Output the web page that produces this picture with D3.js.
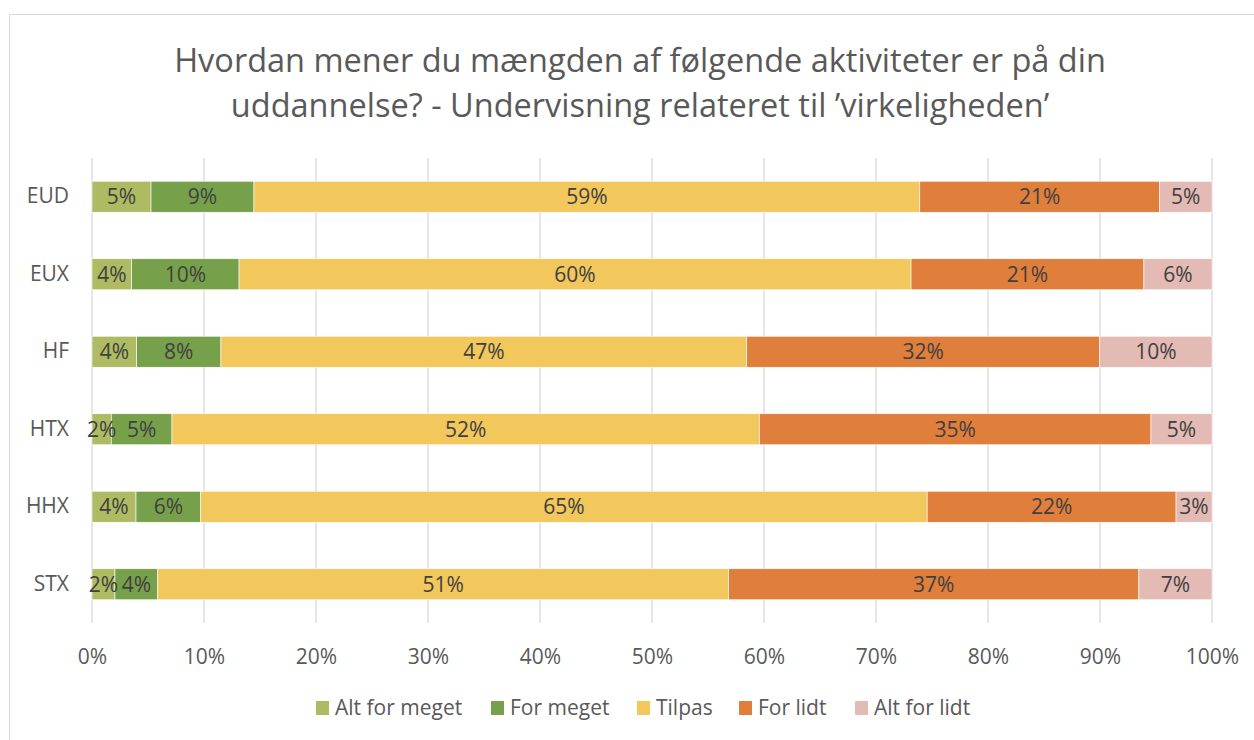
<!DOCTYPE html>
<html>
<head>
<meta charset="utf-8">
<script src="https://cdn.jsdelivr.net/npm/d3@7"></script>
<style>
  body { margin: 0; background: #fff; }
  svg text { font-family: "Open Sans", sans-serif; }
</style>
</head>
<body>
<div id="chart"></div>
<script>
// categories (top to bottom) and the five answer series, shares of 1
const schools = ["EUD", "EUX", "HF", "HTX", "HHX", "STX"];
const seriesNames = ["Alt for meget", "For meget", "Tilpas", "For lidt", "Alt for lidt"];
const altForMeget = [0.0527, 0.0354, 0.0399, 0.0172, 0.0393, 0.0205];
const forMeget    = [0.0919, 0.0959, 0.0752, 0.0542, 0.0578, 0.0382];
const tilpas      = [0.5945, 0.6000, 0.4695, 0.5245, 0.6486, 0.5098];
const forLidt     = [0.2140, 0.2079, 0.3152, 0.3496, 0.2222, 0.3662];
const altForLidt  = [0.0469, 0.0608, 0.1002, 0.0545, 0.0321, 0.0653];
const xTicks = [0, 0.1, 0.2, 0.3, 0.4, 0.5, 0.6, 0.7, 0.8, 0.9, 1];
const colors = ["#aebb63", "#77a04a", "#f2c75c", "#e07e3c", "#e3bab4"];

const W = 1254, H = 740;
const margin = {top: 158, right: 42, bottom: 117, left: 92};

// build rows for d3.stack
const table = schools.map(function(s, i) {
    return {
        school: s,
        "Alt for meget": altForMeget[i],
        "For meget": forMeget[i],
        "Tilpas": tilpas[i],
        "For lidt": forLidt[i],
        "Alt for lidt": altForLidt[i]
    };
});
const stacked = d3.stack().keys(seriesNames)(table);

const svg = d3.select("#chart").append("svg")
    .attr("width", W)
    .attr("height", H);

// chart frame (right and bottom edges run off the picture)
svg.append("rect")
    .attr("x", 9.5).attr("y", 14.5)
    .attr("width", W + 20).attr("height", H + 20)
    .attr("fill", "none")
    .attr("stroke", "#d9d9d9");

// title
const title = svg.append("text")
    .attr("text-anchor", "middle")
    .attr("fill", "#595959")
    .style("font-size", "32.5px");
title.append("tspan").attr("x", 640).attr("y", 72)
    .text("Hvordan mener du mængden af følgende aktiviteter er på din");
title.append("tspan").attr("x", 640).attr("y", 117)
    .text("uddannelse? - Undervisning relateret til \u2019virkeligheden\u2019");

const x = d3.scaleLinear()
    .domain([0, 1])
    .range([margin.left, W - margin.right]);

const y = d3.scaleBand()
    .domain(schools)
    .range([margin.top, H - margin.bottom])
    .paddingInner(0.6)
    .paddingOuter(0.3);

// vertical gridlines
svg.append("g")
    .selectAll("line")
    .data(xTicks)
    .enter().append("line")
        .attr("x1", function(d) { return x(d); })
        .attr("x2", function(d) { return x(d); })
        .attr("y1", margin.top)
        .attr("y2", H - margin.bottom)
        .attr("stroke", "#d9d9d9")
        .attr("stroke-width", 1.3);

// x axis labels
const xAxis = svg.append("g")
    .attr("transform", "translate(0," + (H - margin.bottom) + ")")
    .call(d3.axisBottom(x).tickValues(xTicks).tickFormat(d3.format(".0%")).tickSize(0).tickPadding(26));
xAxis.select(".domain").remove();
xAxis.selectAll("text")
    .attr("fill", "#595959")
    .style("font-size", "21px");

// y axis labels
const yAxis = svg.append("g")
    .attr("transform", "translate(" + margin.left + ",0)")
    .call(d3.axisLeft(y).tickSize(0).tickPadding(23));
yAxis.select(".domain").remove();
yAxis.selectAll("text")
    .attr("fill", "#595959")
    .style("font-size", "21px");

// bars
const layers = svg.append("g")
    .selectAll("g")
    .data(stacked)
    .enter().append("g")
        .attr("fill", function(d, i) { return colors[i]; });

layers.selectAll("rect")
    .data(function(d) { return d; })
    .enter().append("rect")
        .attr("x", function(d) { return x(d[0]); })
        .attr("y", function(d) { return y(d.data.school); })
        .attr("width", function(d) { return x(d[1]) - x(d[0]); })
        .attr("height", y.bandwidth())
        .attr("stroke", "#ffffff")
        .attr("stroke-width", 0.6);

// value labels, drawn after all bars so small ones are not covered
const labels = svg.append("g")
    .selectAll("g")
    .data(stacked)
    .enter().append("g");

labels.selectAll("text")
    .data(function(d) { return d; })
    .enter().append("text")
        .attr("x", function(d) { return (x(d[0]) + x(d[1])) / 2; })
        .attr("y", function(d) { return y(d.data.school) + y.bandwidth() / 2; })
        .attr("dy", "0.35em")
        .attr("text-anchor", "middle")
        .attr("fill", "#404040")
        .style("font-size", "21px")
        .text(function(d) { return Math.round((d[1] - d[0]) * 100) + "%"; });

// legend
const legendX = [316, 491, 637, 739, 855];
const legend = svg.append("g")
    .selectAll("g")
    .data(seriesNames)
    .enter().append("g")
        .attr("transform", function(d, i) { return "translate(" + legendX[i] + ",701)"; });
legend.append("rect")
    .attr("width", 13).attr("height", 14)
    .attr("fill", function(d, i) { return colors[i]; });
legend.append("text")
    .attr("x", 19).attr("y", 7)
    .attr("dy", "0.35em")
    .attr("fill", "#595959")
    .style("font-size", "21px")
    .text(function(d) { return d; });
</script>
</body>
</html>
